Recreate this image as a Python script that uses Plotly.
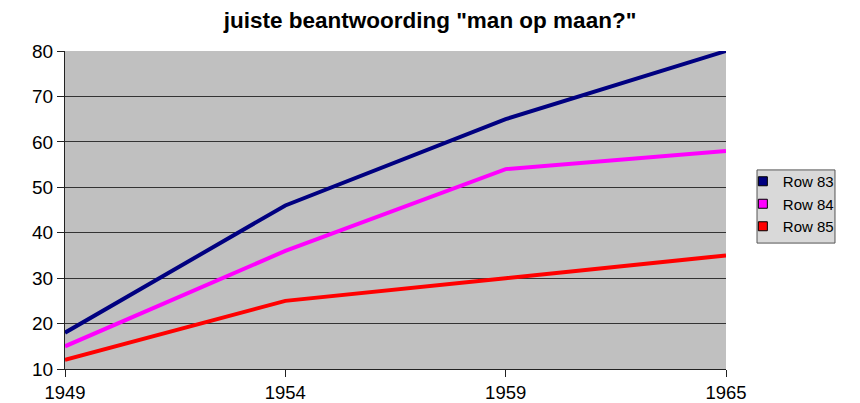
import plotly.graph_objects as go

years = ["1949", "1954", "1959", "1965"]
row83 = [18, 46, 65, 80]
row84 = [15, 36, 54, 58]
row85 = [12, 25, 30, 35]
series_names = ["Row 83", "Row 84", "Row 85"]
series_values = [row83, row84, row85]
colors = ["#000080", "#ff00ff", "#ff0000"]
y_ticks = [10, 20, 30, 40, 50, 60, 70, 80]

fig = go.Figure()
for name, vals, col in zip(series_names, series_values, colors):
    fig.add_trace(go.Scatter(x=years, y=vals, mode="lines", name=name,
                             line=dict(color=col, width=4), showlegend=False))
    fig.add_trace(go.Scatter(x=[None], y=[None], mode="markers", name=name,
                             marker=dict(symbol="square", size=9, color=col,
                                         line=dict(color="black", width=1))))

# legend frame
fig.add_shape(type="rect", xref="paper", yref="paper",
              x0=1.0469, x1=1.1649, y0=0.396, y1=0.626,
              fillcolor="#d9d9d9", line=dict(color="#555555", width=1), layer="below")

fig.update_layout(
    width=860, height=403,
    margin=dict(l=65, r=134, t=51, b=34, autoexpand=False),
    paper_bgcolor="white", plot_bgcolor="#c0c0c0",
    font=dict(family="Liberation Sans, Arial, sans-serif", color="black", size=18),
    title=dict(text="<b>juiste beantwoording \"man op maan?\"</b>",
               x=0.5, xanchor="center", xref="container", y=0.95, yanchor="middle",
               font=dict(size=22.5), automargin=False),
    legend=dict(x=1.0255, y=0.6415, xanchor="left", yanchor="top",
                bgcolor="rgba(0,0,0,0)", borderwidth=0,
                font=dict(size=15), tracegroupgap=0, itemwidth=30),
    showlegend=True,
)
fig.update_xaxes(type="category", range=[0, 3], showgrid=False, automargin=False,
                 showline=True, linecolor="#222222", linewidth=1,
                 ticks="outside", ticklen=7, tickcolor="#222222",
                 tickfont=dict(size=18.5))
fig.update_yaxes(range=[10, 80], tickvals=y_ticks, showgrid=True, automargin=False,
                 gridcolor="#333333", gridwidth=1,
                 showline=True, linecolor="#222222", linewidth=1,
                 ticks="outside", ticklen=7, tickcolor="#222222",
                 tickfont=dict(size=19), zeroline=False)
fig.write_html("out.html", config={"displayModeBar": False},
               post_script="document.body.style.margin='0';document.body.style.overflow='hidden';")
